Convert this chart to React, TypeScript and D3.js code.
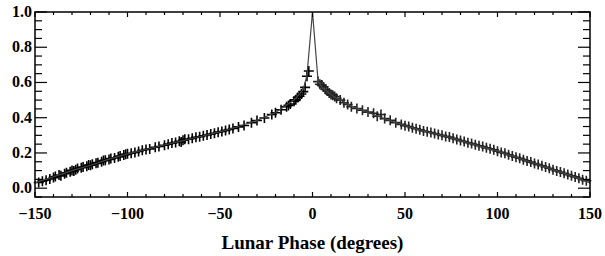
import React from 'react';
import * as d3 from 'd3';

// model curve (line)
const modelPhase = [-150, -140, -130, -120, -110, -100, -90, -80, -70, -60, -50, -40, -30, -20, -10, -5, -3, 0, 3, 5, 10, 20, 30, 40, 50, 60, 70, 80, 90, 100, 110, 120, 130, 140, 150];
const modelValue = [0.03, 0.065, 0.10, 0.13, 0.165, 0.195, 0.22, 0.245, 0.27, 0.295, 0.32, 0.35, 0.385, 0.43, 0.50, 0.56, 0.64, 1.0, 0.61, 0.575, 0.53, 0.47, 0.43, 0.39, 0.355, 0.325, 0.30, 0.27, 0.24, 0.21, 0.175, 0.14, 0.105, 0.07, 0.03];

// observations before full moon (waxing)
const waxPhase = [-148, -146, -144, -142, -140, -139, -137, -136, -134, -133, -131, -130, -129, -128, -127, -125, -124, -122, -121, -120, -119, -117, -116, -114, -113, -112, -110, -109, -107, -105, -104, -102, -101, -100, -98, -96, -94, -92, -90, -88, -85, -83, -80, -78, -76, -74, -72, -71, -70, -69, -67, -65, -63, -61, -59, -57, -55, -53, -51, -49, -47, -45, -43, -40, -37, -33, -30, -26, -22, -20, -17, -14, -13, -12, -10, -9, -8, -7, -6, -5, -4, -3, -2];
const waxValue = [0.032, 0.040, 0.045, 0.052, 0.060, 0.066, 0.075, 0.070, 0.082, 0.088, 0.094, 0.101, 0.097, 0.105, 0.112, 0.116, 0.120, 0.124, 0.131, 0.130, 0.136, 0.141, 0.145, 0.150, 0.157, 0.158, 0.163, 0.168, 0.172, 0.178, 0.183, 0.188, 0.192, 0.195, 0.198, 0.203, 0.208, 0.215, 0.220, 0.223, 0.232, 0.237, 0.244, 0.250, 0.256, 0.260, 0.266, 0.262, 0.272, 0.278, 0.278, 0.283, 0.289, 0.292, 0.298, 0.302, 0.307, 0.312, 0.318, 0.322, 0.328, 0.333, 0.339, 0.348, 0.356, 0.372, 0.384, 0.398, 0.418, 0.428, 0.445, 0.462, 0.470, 0.478, 0.494, 0.502, 0.515, 0.522, 0.535, 0.548, 0.572, 0.635, 0.665];

// observations after full moon (waning)
const wanePhase = [3, 4, 5, 6, 7, 8, 9, 10, 11, 12, 13, 15, 17, 19, 21, 24, 27, 30, 33, 35, 37, 39, 42, 45, 48, 50, 52, 54, 56, 58, 60, 62, 64, 66, 68, 70, 72, 74, 76, 78, 80, 82, 84, 86, 88, 90, 92, 94, 96, 98, 100, 102, 104, 106, 108, 110, 112, 114, 116, 118, 120, 122, 124, 126, 128, 130, 132, 134, 136, 138, 140, 142, 144, 146, 148];
const waneValue = [0.605, 0.590, 0.585, 0.575, 0.560, 0.552, 0.540, 0.532, 0.528, 0.520, 0.510, 0.500, 0.485, 0.475, 0.462, 0.452, 0.442, 0.432, 0.425, 0.408, 0.418, 0.395, 0.385, 0.372, 0.362, 0.355, 0.350, 0.343, 0.337, 0.332, 0.325, 0.320, 0.316, 0.310, 0.305, 0.300, 0.294, 0.290, 0.283, 0.277, 0.270, 0.265, 0.258, 0.253, 0.247, 0.241, 0.236, 0.229, 0.224, 0.218, 0.210, 0.203, 0.198, 0.190, 0.183, 0.176, 0.170, 0.162, 0.155, 0.148, 0.140, 0.134, 0.127, 0.120, 0.113, 0.105, 0.098, 0.092, 0.085, 0.077, 0.070, 0.064, 0.056, 0.048, 0.042];

const xMajor = [-150, -100, -50, 0, 50, 100, 150];
const yMajor = [0.0, 0.2, 0.4, 0.6, 0.8, 1.0];

const W = 605, H = 256;
const m = { left: 35, right: 15, top: 12, bottom: 59 };
const font = '"Liberation Serif", "DejaVu Serif", serif';

export default function App() {
  const x = d3.scaleLinear().domain([-150, 150]).range([m.left, W - m.right]);
  const y = d3.scaleLinear().domain([-0.05, 1.0]).range([H - m.bottom, m.top]);
  const x0 = m.left, x1 = W - m.right, y0 = H - m.bottom, y1 = m.top;

  const xMinor = d3.range(-150, 151, 10);
  const yMinor = d3.range(-0.05, 1.001, 0.05).map(v => +v.toFixed(2));

  const line = d3.line<number>()
    .x((_, i) => x(modelPhase[i]))
    .y(d => y(d));

  const plus = (px: number, py: number, k: string, color: string) => (
    <path key={k} d={`M${px - 5},${py}H${px + 5}M${px},${py - 5}V${py + 5}`} stroke={color} strokeWidth={1.6} fill="none" />
  );

  const isMajorX = (v: number) => v % 50 === 0;
  const isMajorY = (v: number) => Math.abs(Math.round(v * 5) - v * 5) < 1e-6;

  return (
    <svg width={W} height={H} style={{ position: 'fixed', left: 0, top: 0, background: '#fff' }}>
      <g>
        {waxPhase.map((p, i) => plus(x(p), y(waxValue[i]), 'a' + i, '#000'))}
        {wanePhase.map((p, i) => plus(x(p), y(waneValue[i]), 'b' + i, '#222'))}
      </g>
      <path d={line(modelValue) || ''} fill="none" stroke="#444" strokeWidth={1.2} />

      {/* frame */}
      <rect x={x0} y={y1} width={x1 - x0} height={y0 - y1} fill="none" stroke="#000" strokeWidth={1.5} />

      {/* x ticks */}
      {xMinor.map(v => {
        const len = isMajorX(v) ? 5 : 3;
        return (
          <g key={'xt' + v} stroke="#000" strokeWidth={1.2}>
            <line x1={x(v)} x2={x(v)} y1={y0} y2={y0 - len} />
            <line x1={x(v)} x2={x(v)} y1={y1} y2={y1 + len} />
          </g>
        );
      })}
      {/* y ticks */}
      {yMinor.map(v => {
        const len = isMajorY(v) ? 12 : 7;
        return (
          <g key={'yt' + v} stroke="#000" strokeWidth={1.2}>
            <line x1={x0} x2={x0 + len} y1={y(v)} y2={y(v)} />
            <line x1={x1} x2={x1 - len} y1={y(v)} y2={y(v)} />
          </g>
        );
      })}

      {xMajor.map(v => (
        <text key={'xl' + v} x={x(v)} y={y0 + 22} textAnchor="middle" fontFamily={font} fontWeight="bold" fontSize={16}>
          {v < 0 ? '\u2212' + Math.abs(v) : v}
        </text>
      ))}
      {yMajor.map(v => (
        <text key={'yl' + v} x={x0 - 3} y={y(v) + 5} textAnchor="end" fontFamily={font} fontWeight="bold" fontSize={16}>
          {v.toFixed(1)}
        </text>
      ))}
      <text x={(x0 + x1) / 2} y={249} textAnchor="middle" fontFamily={font} fontWeight="bold" fontSize={19}>
        Lunar Phase (degrees)
      </text>
    </svg>
  );
}
